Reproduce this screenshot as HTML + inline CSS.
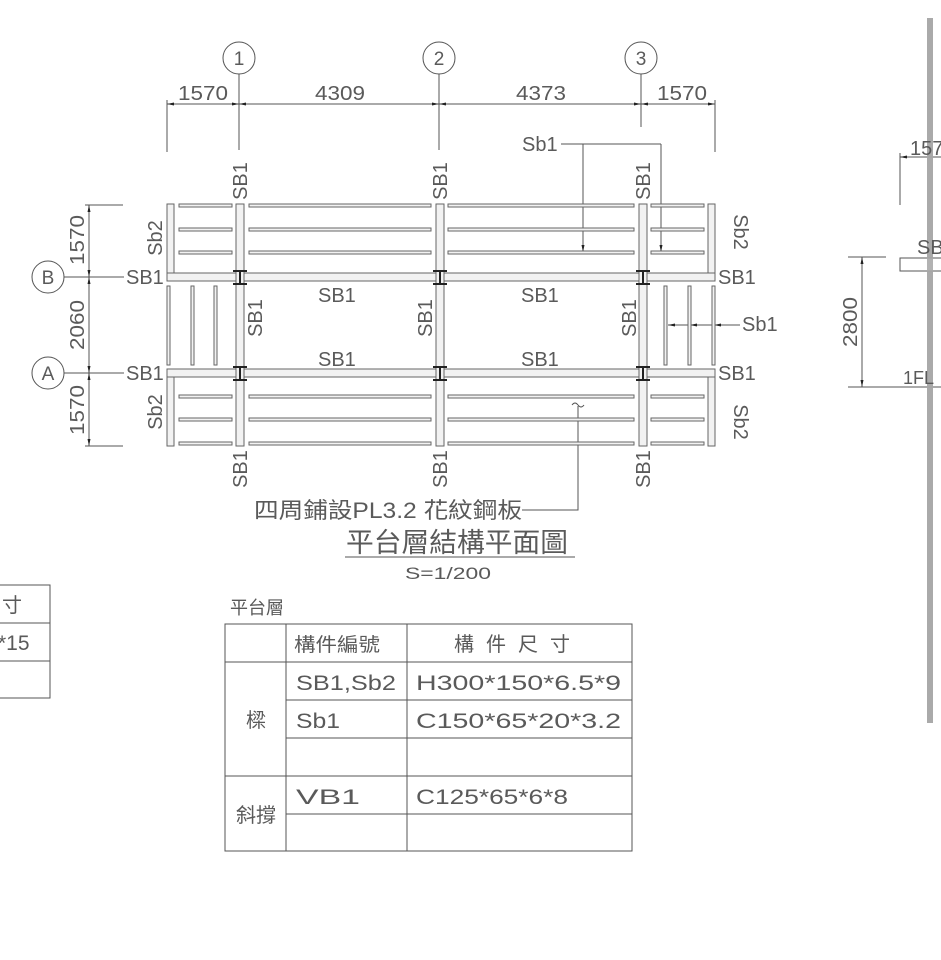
<!DOCTYPE html>
<html><head><meta charset="utf-8"><style>
html,body{margin:0;padding:0;background:#fff;}
svg{display:block;}
text{font-family:"Liberation Sans","Noto Sans CJK TC",sans-serif;fill:#5a5a5a;}
</style></head><body>
<svg width="941" height="960" viewBox="0 0 941 960" xmlns="http://www.w3.org/2000/svg">
<defs>
<marker id="ar" markerWidth="8" markerHeight="6" refX="7" refY="3" orient="auto" markerUnits="userSpaceOnUse"><path d="M0,1.5 L7,3 L0,4.5z" fill="#222"/></marker>
</defs>
<g stroke="#555" stroke-width="1" fill="none">
<circle cx="239" cy="58" r="16"/><circle cx="439" cy="58" r="16"/><circle cx="641" cy="58" r="16"/>
<line x1="239" y1="74" x2="239" y2="150"/><line x1="439" y1="74" x2="439" y2="150"/><line x1="641" y1="74" x2="641" y2="127"/>
<line x1="167" y1="100" x2="167" y2="152"/><line x1="715" y1="100" x2="715" y2="152"/>
<line x1="167" y1="104" x2="715" y2="104"/>
<line x1="561" y1="144" x2="661" y2="144"/>
<line x1="583" y1="144" x2="583" y2="252" marker-end="url(#ar)"/>
<line x1="661" y1="144" x2="661" y2="252" marker-end="url(#ar)"/>
<line x1="85" y1="205" x2="123" y2="205"/><line x1="85" y1="446" x2="123" y2="446"/>
<line x1="89" y1="205" x2="89" y2="446"/>
<circle cx="48" cy="277" r="16"/><circle cx="48" cy="373" r="16"/>
<line x1="64" y1="277" x2="124" y2="277"/><line x1="64" y1="373" x2="124" y2="373"/>
<line x1="740" y1="325" x2="668" y2="325" marker-end="url(#ar)"/>
<polyline points="522,510 578,510 578,406"/>
<path d="M572,405 q3,-4 6,0 t6,0"/>
<line x1="345" y1="557" x2="575" y2="557"/>
</g>
<g fill="#222">
<path d="M167,104 l7,-1.5 v3z M239,104 l-7,-1.5 v3z M239,104 l7,-1.5 v3z M439,104 l-7,-1.5 v3z M439,104 l7,-1.5 v3z M641,104 l-7,-1.5 v3z M641,104 l7,-1.5 v3z M715,104 l-7,-1.5 v3z"/>
<path d="M89,205 l-1.5,7 h3z M89,277 l-1.5,-7 h3z M89,277 l-1.5,7 h3z M89,373 l-1.5,-7 h3z M89,373 l-1.5,7 h3z M89,446 l-1.5,-7 h3z"/>
<path d="M690,325 l7,-1.5 v3z M714,325 l7,-1.5 v3z"/>
</g>
<g fill="#f2f2f2" stroke="#666" stroke-width="1">
<rect x="167" y="273" width="548" height="8"/>
<rect x="167" y="369" width="548" height="8"/>
<rect x="236" y="204" width="8" height="242"/>
<rect x="436" y="204" width="8" height="242"/>
<rect x="639" y="204" width="8" height="242"/>
<rect x="167" y="204" width="7" height="69"/>
<rect x="167" y="377" width="7" height="69"/>
<rect x="708" y="204" width="7" height="69"/>
<rect x="708" y="377" width="7" height="69"/>
<rect x="179" y="204" width="53" height="3"/><rect x="249" y="204" width="182" height="3"/><rect x="448" y="204" width="186" height="3"/><rect x="651" y="204" width="53" height="3"/>
<rect x="179" y="228" width="53" height="3"/><rect x="249" y="228" width="182" height="3"/><rect x="448" y="228" width="186" height="3"/><rect x="651" y="228" width="53" height="3"/>
<rect x="179" y="251" width="53" height="3"/><rect x="249" y="251" width="182" height="3"/><rect x="448" y="251" width="186" height="3"/><rect x="651" y="251" width="53" height="3"/>
<rect x="179" y="395" width="53" height="3"/><rect x="249" y="395" width="182" height="3"/><rect x="448" y="395" width="186" height="3"/><rect x="651" y="395" width="53" height="3"/>
<rect x="179" y="418" width="53" height="3"/><rect x="249" y="418" width="182" height="3"/><rect x="448" y="418" width="186" height="3"/><rect x="651" y="418" width="53" height="3"/>
<rect x="179" y="442" width="53" height="3"/><rect x="249" y="442" width="182" height="3"/><rect x="448" y="442" width="186" height="3"/><rect x="651" y="442" width="53" height="3"/>
<rect x="167" y="286" width="3" height="79"/><rect x="191" y="286" width="3" height="79"/><rect x="214" y="286" width="3" height="79"/>
<rect x="664" y="286" width="3" height="79"/><rect x="688" y="286" width="3" height="79"/><rect x="712" y="286" width="3" height="79"/>
</g>
<g stroke="#222" stroke-width="2" fill="none">
<path d="M233,271h14M233,284h14M240,271v13 M233,367h14M233,380h14M240,367v13"/>
<path d="M433,271h14M433,284h14M440,271v13 M433,367h14M433,380h14M440,367v13"/>
<path d="M636,271h14M636,284h14M643,271v13 M636,367h14M636,380h14M643,367v13"/>
</g>
<g font-size="20">
<text x="48" y="284" text-anchor="middle" font-size="19">B</text>
<text x="48" y="380" text-anchor="middle" font-size="19">A</text>
<text x="239" y="65" text-anchor="middle" font-size="19">1</text>
<text x="439" y="65" text-anchor="middle" font-size="19">2</text>
<text x="641" y="65" text-anchor="middle" font-size="19">3</text>
<text x="203" y="100" text-anchor="middle" textLength="50" lengthAdjust="spacingAndGlyphs">1570</text>
<text x="340" y="100" text-anchor="middle" textLength="50" lengthAdjust="spacingAndGlyphs">4309</text>
<text x="541" y="100" text-anchor="middle" textLength="50" lengthAdjust="spacingAndGlyphs">4373</text>
<text x="682" y="100" text-anchor="middle" textLength="50" lengthAdjust="spacingAndGlyphs">1570</text>
<text x="522" y="151">Sb1</text>
<text x="126" y="284">SB1</text><text x="126" y="380">SB1</text>
<text x="718" y="284">SB1</text><text x="718" y="380">SB1</text>
<text x="742" y="331">Sb1</text>
<text x="318" y="302">SB1</text><text x="521" y="302">SB1</text>
<text x="318" y="366">SB1</text><text x="521" y="366">SB1</text>
<text transform="translate(84,240) rotate(-90)" text-anchor="middle" textLength="50" lengthAdjust="spacingAndGlyphs">1570</text>
<text transform="translate(84,325) rotate(-90)" text-anchor="middle" textLength="50" lengthAdjust="spacingAndGlyphs">2060</text>
<text transform="translate(84,410) rotate(-90)" text-anchor="middle" textLength="50" lengthAdjust="spacingAndGlyphs">1570</text>
<text transform="translate(162,238) rotate(-90)" text-anchor="middle">Sb2</text>
<text transform="translate(162,412) rotate(-90)" text-anchor="middle">Sb2</text>
<text transform="translate(734,232) rotate(90)" text-anchor="middle">Sb2</text>
<text transform="translate(734,422) rotate(90)" text-anchor="middle">Sb2</text>
<text transform="translate(247,181) rotate(-90)" text-anchor="middle">SB1</text>
<text transform="translate(447,181) rotate(-90)" text-anchor="middle">SB1</text>
<text transform="translate(650,181) rotate(-90)" text-anchor="middle">SB1</text>
<text transform="translate(247,469) rotate(-90)" text-anchor="middle">SB1</text>
<text transform="translate(447,469) rotate(-90)" text-anchor="middle">SB1</text>
<text transform="translate(650,469) rotate(-90)" text-anchor="middle">SB1</text>
<text transform="translate(262,318) rotate(-90)" text-anchor="middle">SB1</text>
<text transform="translate(432,318) rotate(-90)" text-anchor="middle">SB1</text>
<text transform="translate(636,318) rotate(-90)" text-anchor="middle">SB1</text>
</g>
<text x="254" y="518" font-size="22" textLength="268" lengthAdjust="spacingAndGlyphs">四周鋪設PL3.2 花紋鋼板</text>
<text x="346" y="552" font-size="27" textLength="222" lengthAdjust="spacingAndGlyphs">平台層結構平面圖</text>
<text x="448" y="579" font-size="17" text-anchor="middle" textLength="86" lengthAdjust="spacingAndGlyphs">S=1/200</text>
<rect x="927" y="18" width="6" height="705" fill="#aaa"/>
<g stroke="#555" stroke-width="1" fill="none">
<line x1="900" y1="153" x2="900" y2="205"/>
<line x1="900" y1="157" x2="941" y2="157"/>
<rect x="900" y="258" width="45" height="13" fill="#fff"/>
<line x1="848" y1="257" x2="886" y2="257"/>
<line x1="848" y1="387" x2="941" y2="387"/>
<line x1="862" y1="257" x2="862" y2="387"/>
</g>
<path d="M900,157 l7,-1.5 v3z M862,257 l-1.5,7 h3z M862,387 l-1.5,-7 h3z" fill="#222"/>
<rect x="927" y="18" width="6" height="705" fill="#aaa" opacity="0.9"/>
<text x="910" y="155" font-size="20">157</text>
<text x="917" y="254" font-size="20">SB</text>
<text x="903" y="384" font-size="18">1FL</text>
<text transform="translate(857,322) rotate(-90)" text-anchor="middle" font-size="20" textLength="50" lengthAdjust="spacingAndGlyphs">2800</text>
<g stroke="#555" stroke-width="1" fill="none">
<path d="M0,585H50V698H0 M0,623H50 M0,661H50"/>
</g>
<text x="2" y="612" font-size="20">寸</text>
<text x="-2" y="650" font-size="21">*15</text>
<text x="230" y="614" font-size="18">平台層</text>
<g stroke="#555" stroke-width="1" fill="none">
<rect x="225" y="624" width="407" height="227"/>
<line x1="286" y1="624" x2="286" y2="851"/>
<line x1="407" y1="624" x2="407" y2="851"/>
<line x1="225" y1="662" x2="632" y2="662"/>
<line x1="286" y1="700" x2="632" y2="700"/>
<line x1="286" y1="738" x2="632" y2="738"/>
<line x1="225" y1="776" x2="632" y2="776"/>
<line x1="286" y1="814" x2="632" y2="814"/>
</g>
<g font-size="21">
<text x="294" y="651" font-size="19" textLength="86" lengthAdjust="spacingAndGlyphs">構件編號</text>
<text x="518" y="651" text-anchor="middle" font-size="20" letter-spacing="12">構件尺寸</text>
<text x="296" y="690" textLength="100" lengthAdjust="spacingAndGlyphs">SB1,Sb2</text>
<text x="296" y="728" textLength="44" lengthAdjust="spacingAndGlyphs">Sb1</text>
<text x="416" y="690" textLength="205" lengthAdjust="spacingAndGlyphs">H300*150*6.5*9</text>
<text x="416" y="728" textLength="205" lengthAdjust="spacingAndGlyphs">C150*65*20*3.2</text>
<text x="296" y="804" textLength="64" lengthAdjust="spacingAndGlyphs">VB1</text>
<text x="416" y="804" textLength="152" lengthAdjust="spacingAndGlyphs">C125*65*6*8</text>
<text x="256" y="727" text-anchor="middle" font-size="20">樑</text>
<text x="256" y="822" text-anchor="middle" font-size="20">斜撐</text>
</g>
</svg>
</body></html>
